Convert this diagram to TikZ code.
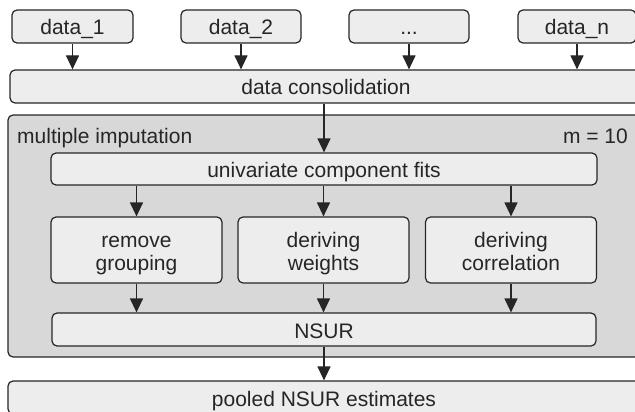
\documentclass[tikz,border=0pt]{standalone}
\usepackage{fontspec}
\setmainfont{Liberation Sans}
\usetikzlibrary{arrows.meta}
\definecolor{linegray}{RGB}{38,38,38}
\definecolor{boxgray}{RGB}{237,237,237}
\definecolor{outergray}{RGB}{216,216,216}
\tikzset{
  box/.style={draw=linegray, fill=boxgray, line width=1.2pt, rounded corners=5pt,
    inner sep=0pt, align=center, text=linegray,
    font=\fontsize{21}{23}\selectfont},
  oneline/.style={box, text height=17pt, text depth=0pt},
  twoline/.style={box, text height=40pt, text depth=0pt},
  flow/.style={draw=linegray, line width=1.2pt, -{Triangle[length=14pt,width=13pt]}},
}
\begin{document}
\begin{tikzpicture}[x=1pt,y=1pt,yscale=-1,xscale=1]
\useasboundingbox (0,0) rectangle (635,412);

%Outer Rect [id:imputation]
\node [box, fill=outergray, minimum width=634pt, minimum height=242pt] (imp) at (325,236) {};
% Text Node
\node [anchor=base west, inner sep=0pt, text=linegray, font=\fontsize{21}{23}\selectfont] (implabel) at (17,143) {multiple imputation};
% Text Node
\node [anchor=base east, inner sep=0pt, text=linegray, font=\fontsize{21}{23}\selectfont] (mlabel) at (628,143) {m = 10};

%Data Rects
\node [oneline, minimum width=121pt, minimum height=33pt] (d1) at (72.5,26.5) {data\_1};
\node [oneline, minimum width=120pt, minimum height=33pt] (d2) at (241,26.5) {data\_2};
\node [oneline, minimum width=120pt, minimum height=33pt] (d3) at (409,26.5) {...};
\node [oneline, minimum width=118pt, minimum height=33pt] (dn) at (577,26.5) {data\_n};

%Consolidation Rect
\node [oneline, minimum width=632pt, minimum height=33pt] (cons) at (326,86.5) {data consolidation};

%Inner Rects
\node [oneline, minimum width=546pt, minimum height=32pt] (univ) at (324,169) {univariate component fits};
\node [twoline, minimum width=171pt, minimum height=66pt] (group) at (136.5,250) {remove\\grouping};
\node [twoline, minimum width=171pt, minimum height=66pt] (weight) at (323.5,250) {deriving\\weights};
\node [twoline, minimum width=171pt, minimum height=66pt] (corr) at (511,250) {deriving\\correlation};
\node [oneline, minimum width=544pt, minimum height=33pt] (nsur) at (324,329.5) {NSUR};

%Pooled Rect
\node [oneline, minimum width=632pt, minimum height=33pt] (pool) at (324,397.5) {pooled NSUR estimates};

%Straight Lines
\foreach \d in {d1,d2,d3,dn}
  \draw [flow] (\d.south) -- (\d.south |- cons.north);
\draw [flow] (cons.south -| univ.north) -- (univ.north);
\foreach \b in {group,weight,corr}{
  \draw [flow] (\b.north |- univ.south) -- (\b.north);
  \draw [flow] (\b.south) -- (\b.south |- nsur.north);
}
\draw [flow] (nsur.south) -- (nsur.south |- pool.north);

\end{tikzpicture}
\end{document}
